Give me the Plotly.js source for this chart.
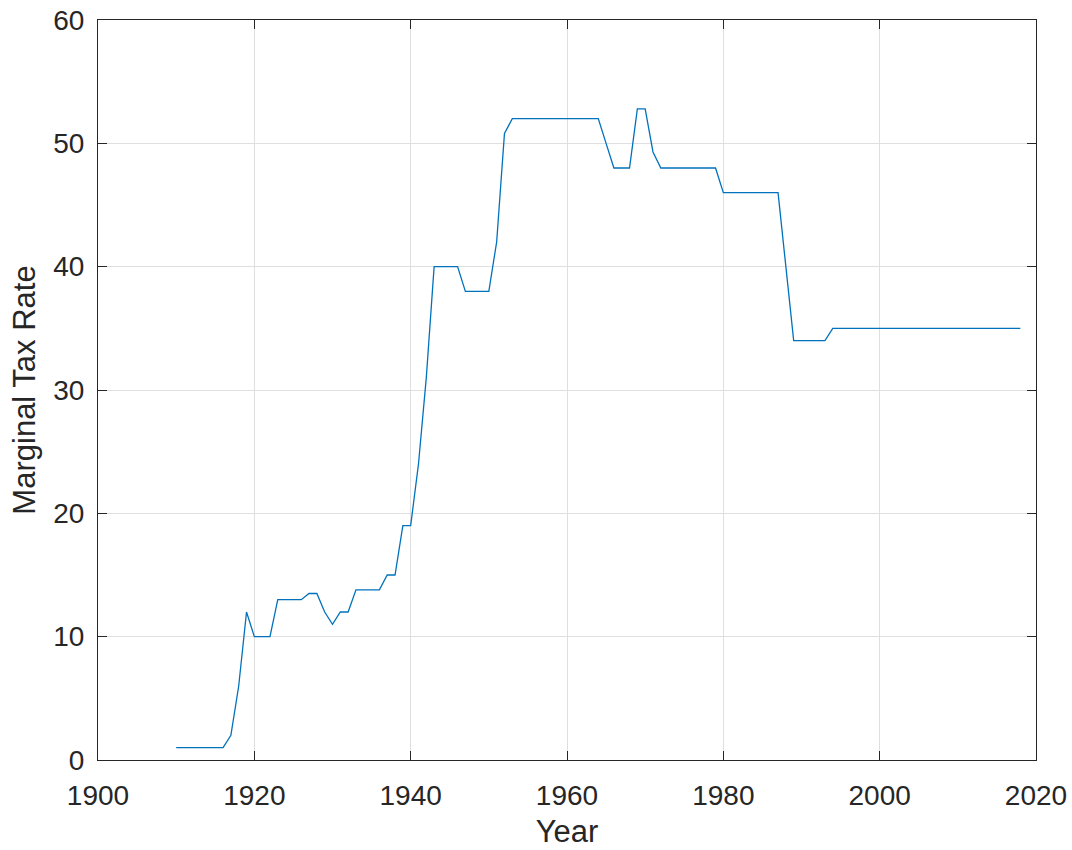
<!DOCTYPE html>
<html>
<head>
<meta charset="utf-8">
<script src="https://cdn.plot.ly/plotly-3.0.1.min.js"></script>
<style>
html,body{margin:0;padding:0;background:#fff;}
#chart{width:1072px;height:850px;}
</style>
</head>
<body>
<div id="chart"></div>
<script>
const years = [1910,1911,1912,1913,1914,1915,1916,1917,1918,1919,
  1920,1921,1922,1923,1924,1925,1926,1927,1928,1929,
  1930,1931,1932,1933,1934,1935,1936,1937,1938,1939,
  1940,1941,1942,1943,1944,1945,1946,1947,1948,1949,
  1950,1951,1952,1953,1954,1955,1956,1957,1958,1959,
  1960,1961,1962,1963,1964,1965,1966,1967,1968,1969,
  1970,1971,1972,1973,1974,1975,1976,1977,1978,1979,
  1980,1981,1982,1983,1984,1985,1986,1987,1988,1989,
  1990,1991,1992,1993,1994,1995,1996,1997,1998,1999,
  2000,2001,2002,2003,2004,2005,2006,2007,2008,2009,
  2010,2011,2012,2013,2014,2015,2016,2017,2018];
const taxRate = [1,1,1,1,1,1,1,2,6,12,
  10,10,10,13,13,13,13,13.5,13.5,12,
  11,12,12,13.8,13.8,13.8,13.8,15,15,19,
  19,24,31,40,40,40,40,38,38,38,
  38,42,50.8,52,52,52,52,52,52,52,
  52,52,52,52,52,50,48,48,48,52.8,
  52.8,49.3,48,48,48,48,48,48,48,48,
  46,46,46,46,46,46,46,46,40,34,
  34,34,34,34,35,35,35,35,35,35,
  35,35,35,35,35,35,35,35,35,35,
  35,35,35,35,35,35,35,35,35];
const xTicks = [1900,1920,1940,1960,1980,2000,2020];
const yTicks = [0,10,20,30,40,50,60];

const FONT = 'Liberation Sans, Arial, sans-serif';
const axisCommon = {
  showline: true, linecolor: '#262626', linewidth: 1, mirror: 'ticks',
  ticks: 'inside', ticklen: 9, tickwidth: 1, tickcolor: '#262626',
  showgrid: true, gridcolor: '#dfdfdf', gridwidth: 1,
  zeroline: false,
  tickfont: {family: FONT, size: 28, color: '#262626'},
  tickmode: 'array'
};

Plotly.newPlot('chart', [{
  x: years, y: taxRate, type: 'scatter', mode: 'lines',
  line: {color: '#0072BD', width: 1.3}
}], {
  width: 1072, height: 850,
  paper_bgcolor: '#ffffff', plot_bgcolor: '#ffffff',
  margin: {l: 98, r: 36, t: 20, b: 90},
  showlegend: false,
  xaxis: Object.assign({}, axisCommon, {
    range: [1900, 2020], tickvals: xTicks, ticktext: xTicks.map(String),
    ticklabelstandoff: 10,
    title: {text: 'Year', font: {family: FONT, size: 31, color: '#262626'}, standoff: 10}
  }),
  yaxis: Object.assign({}, axisCommon, {
    range: [0, 60], tickvals: yTicks, ticktext: yTicks.map(String),
    ticklabelstandoff: 7,
    title: {text: 'Marginal Tax Rate', font: {family: FONT, size: 31, color: '#262626'}, standoff: 8}
  })
}, {displayModeBar: false, staticPlot: true});
</script>
</body>
</html>
